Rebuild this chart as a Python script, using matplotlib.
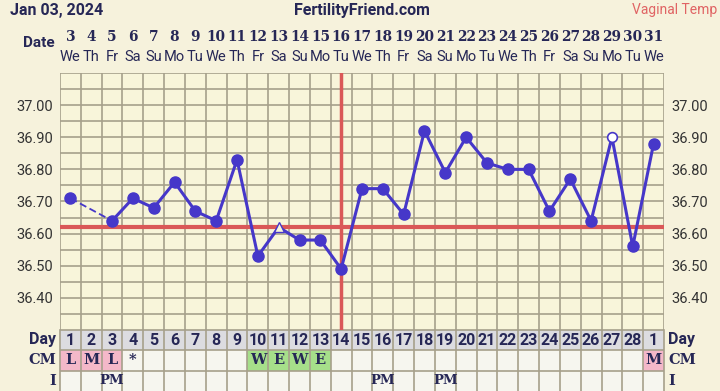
import numpy as np
import matplotlib
matplotlib.use("Agg")
import matplotlib.pyplot as plt
import matplotlib.transforms as mtransforms

matplotlib.rcParams['font.family'] = ['Roboto', 'DejaVu Sans']

# chart data
dates = list(range(3, 32))
weekdays = ['We', 'Th', 'Fr', 'Sa', 'Su', 'Mo', 'Tu'] * 4 + ['We']
temps = [36.71, np.nan, 36.64, 36.71, 36.68, 36.76, 36.67, 36.64, 36.83, 36.53,
         36.62, 36.58, 36.58, 36.49, 36.74, 36.74, 36.66, 36.92, 36.79, 36.90,
         36.82, 36.80, 36.80, 36.67, 36.77, 36.64, 36.90, 36.56, 36.88]
open_circle_idx = [26]
open_triangle_idx = [10]
coverline = 36.62
ovulation_idx = 13
cycle_days = list(range(1, 29)) + [1]
cm = ['L', 'M', 'L', '*', '', '', '', '', '', 'W', 'E', 'W', 'E'] + [''] * 15 + ['M']
intercourse = {2: 'PM', 15: 'PM', 18: 'PM'}
cm_colors = {'L': '#f4b8c9', 'M': '#f4b8c9', 'W': '#a6df8a', 'E': '#a6df8a'}

W, H = 720, 391
BG = '#f6f2dc'
PLOT_BG = '#f8f5da'
GRID = '#a6a08b'
NAVY = '#262756'
LINE = '#4637c9'
RED = '#da5858'

fig = plt.figure(figsize=(W / 100, H / 100), dpi=100, facecolor=BG)
x0, x1 = 60 / W, 664 / W
ax = fig.add_axes([x0, 1 - 330 / H, x1 - x0, (330 - 73) / H])
ax.set_facecolor(PLOT_BG)
n = len(dates)
xs = np.arange(n)
ax.set_xlim(-0.5, n - 0.5)
ax.set_ylim(36.30, 37.10)

yt = np.round(np.arange(36.30, 37.101, 0.05), 2)
labels = ['%.2f' % v if (36.39 < v < 37.01 and abs(v * 10 - round(v * 10)) < 1e-6) else '' for v in yt]
ax.set_yticks(yt)
ax.set_yticklabels(labels)
ax.set_xticks(np.arange(-0.5, n, 1))
ax.set_xticklabels([])
ax.tick_params(axis='both', length=0, colors='#333333', labelsize=10.5, pad=5,
               labelright=True, labelleft=True)
ax.grid(True, color=GRID, linewidth=1.2)
ax.set_axisbelow(True)
for s in ax.spines.values():
    s.set_visible(False)

# cover line and ovulation line
ax.axhline(coverline, color=RED, linewidth=3, zorder=3)
ax.axvline(xs[ovulation_idx], color=RED, linewidth=2.5, zorder=3)

t = np.array(temps)
ax.plot(xs, t, color=LINE, linewidth=2.2, zorder=4)
# dashed link across the missing day
ax.plot([xs[0], xs[2]], [t[0], t[2]], color=LINE, linewidth=1.3, linestyle=(0, (4, 2)), zorder=4)
filled = [i for i in range(n) if i not in open_circle_idx + open_triangle_idx]
ax.plot(xs[filled], t[filled], 'o', color=LINE, markersize=8, zorder=5)
ax.plot(xs[open_circle_idx], t[open_circle_idx], 'o', markerfacecolor='white',
        markeredgecolor=LINE, markeredgewidth=1.2, markersize=7, zorder=5)
ax.plot(xs[open_triangle_idx], t[open_triangle_idx], '^', markerfacecolor=PLOT_BG,
        markeredgecolor=LINE, markeredgewidth=1.0, markersize=7, zorder=5)

# header row of dates
tr = mtransforms.blended_transform_factory(ax.transData, fig.transFigure)
for i in range(n):
    ax.text(xs[i], 1 - 37 / H, str(dates[i]), transform=tr, ha='center', va='center',
            fontsize=11, fontweight='bold', color=NAVY, family=['DejaVu Serif'],
            fontstretch='condensed')
    ax.text(xs[i], 1 - 57 / H, weekdays[i], transform=tr, ha='center', va='center',
            fontsize=10.5, color=NAVY)
fig.text(55 / W, 1 - 43 / H, 'Date', ha='right', va='center', fontsize=11,
         fontweight='bold', color=NAVY)
fig.text(10 / W, 1 - 10 / H, 'Jan 03, 2024', ha='left', va='center', fontsize=11.5,
         fontweight='bold', color=NAVY)
fig.text(362 / W, 1 - 10 / H, 'FertilityFriend.com', ha='center', va='center',
         fontsize=11.5, fontweight='bold', color=NAVY)
fig.text(717 / W, 1 - 10 / H, 'Vaginal Temp', ha='right', va='center', fontsize=10,
         color='#e06464')

# bottom table: Day / CM / I
tb = fig.add_axes([x0, 0, x1 - x0, (391 - 330) / H])
tb.set_xlim(-0.5, n - 0.5)
tb.set_ylim(3, 0)
tb.axis('off')
tb.bar(xs, 1, bottom=0, width=1, color='#dcdce0', zorder=1)
tb.bar(xs, 2, bottom=1, width=1, color='#f6f6ef', zorder=1)
cm_x = [i for i in range(n) if cm[i] in cm_colors]
tb.bar(cm_x, 1, bottom=1, width=1, color=[cm_colors[cm[i]] for i in cm_x], zorder=2)
for b in np.arange(-0.5, n, 1):
    tb.plot([b, b], [0, 3], color=GRID, linewidth=1.2, zorder=3, clip_on=False)
for r in [0, 1, 2]:
    tb.plot([-0.5, n - 0.5], [r, r], color=GRID, linewidth=1.2, zorder=3)
for i in range(n):
    tb.text(xs[i], 0.5, str(cycle_days[i]), ha='center', va='center', fontsize=11.5,
            fontweight='bold', color=NAVY, zorder=4)
    if cm[i]:
        tb.text(xs[i], 1.5, cm[i], ha='center', va='center', fontsize=10.5,
                fontweight='bold', color=NAVY, family=['DejaVu Serif'], zorder=4)
    if i in intercourse:
        tb.text(xs[i], 2.5, intercourse[i], ha='center', va='center', fontsize=9.5,
                fontweight='bold', color=NAVY, family=['DejaVu Serif'], zorder=4)
for side, xpos, ha in [('l', -0.7, 'right'), ('r', n - 0.3, 'left')]:
    tb.text(xpos, 0.45, 'Day', ha=ha, va='center', fontsize=11.5, fontweight='bold',
            color=NAVY, clip_on=False)
    tb.text(xpos, 1.5, 'CM', ha=ha, va='center', fontsize=10.5, fontweight='bold',
            color=NAVY, family=['DejaVu Serif'], clip_on=False)
    tb.text(xpos, 2.5, 'I', ha=ha, va='center', fontsize=10.5, fontweight='bold',
            color=NAVY, family=['DejaVu Serif'], clip_on=False)

fig.savefig('out.png', dpi=100, facecolor=BG)
